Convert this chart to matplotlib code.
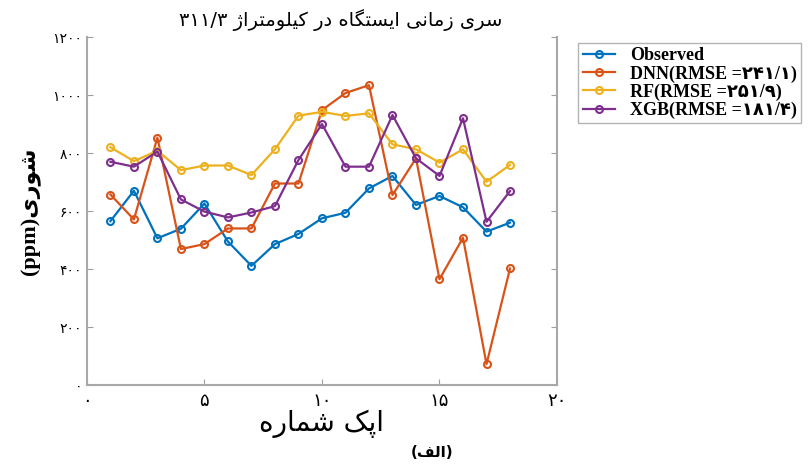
import matplotlib
matplotlib.use("Agg")
import matplotlib.pyplot as plt

# data
epochs = list(range(1, 19))
observed = [565, 670, 506, 539, 626, 495, 411, 486, 521, 575, 594, 678, 721, 621, 652, 613, 529, 560]
dnn = [657, 571, 853, 469, 486, 540, 540, 695, 695, 948, 1007, 1034, 655, 782, 365, 508, 72, 402]
rf = [820, 772, 808, 741, 757, 757, 724, 813, 929, 942, 928, 937, 830, 813, 767, 813, 701, 759]
xgb = [770, 753, 805, 640, 598, 578, 595, 617, 776, 900, 753, 753, 931, 782, 721, 920, 563, 669]

labels = ["Observed", "DNN(RMSE =۲۴۱/۱)", "RF(RMSE =۲۵۱/۹)", "XGB(RMSE =۱۸۱/۴)"]
colors = ["#0072BD", "#D95319", "#EDB120", "#7E2F8E"]
xticks = [0, 5, 10, 15, 20]
yticks = [0, 200, 400, 600, 800, 1000, 1200]

# simple Persian shaping (matplotlib has no RTL / joining support)
FORMS = {
    'ا': (0xFE8D, 0xFE8E), 'د': (0xFEA9, 0xFEAA), 'ر': (0xFEAD, 0xFEAE),
    'ز': (0xFEAF, 0xFEB0), 'ژ': (0xFB8A, 0xFB8B), 'و': (0xFEED, 0xFEEE),
    'ب': (0xFE8F, 0xFE90, 0xFE91, 0xFE92), 'پ': (0xFB56, 0xFB57, 0xFB58, 0xFB59),
    'ت': (0xFE95, 0xFE96, 0xFE97, 0xFE98), 'س': (0xFEB1, 0xFEB2, 0xFEB3, 0xFEB4),
    'ش': (0xFEB5, 0xFEB6, 0xFEB7, 0xFEB8), 'ف': (0xFED1, 0xFED2, 0xFED3, 0xFED4),
    'ک': (0xFB8E, 0xFB8F, 0xFB90, 0xFB91), 'گ': (0xFB92, 0xFB93, 0xFB94, 0xFB95),
    'ل': (0xFEDD, 0xFEDE, 0xFEDF, 0xFEE0), 'م': (0xFEE1, 0xFEE2, 0xFEE3, 0xFEE4),
    'ن': (0xFEE5, 0xFEE6, 0xFEE7, 0xFEE8), 'ه': (0xFEE9, 0xFEEA, 0xFEEB, 0xFEEC),
    'ی': (0xFBFC, 0xFBFD, 0xFBFE, 0xFBFF),
}
MIRROR = {'(': ')', ')': '('}


def rtl(s):
    out = []
    for i, ch in enumerate(s):
        f = FORMS.get(ch)
        if f is None:
            out.append(ch)
            continue
        prev = s[i - 1] if i > 0 else ''
        nxt = s[i + 1] if i + 1 < len(s) else ''
        jp = prev in FORMS and len(FORMS[prev]) == 4
        jn = len(f) == 4 and nxt in FORMS
        if jp and jn:
            c = f[3]
        elif jn:
            c = f[2]
        elif jp:
            c = f[1]
        else:
            c = f[0]
        out.append(chr(c))
    return ''.join(MIRROR.get(c, c) for c in reversed(out))


def fa(n):
    return str(n).translate(str.maketrans("0123456789", "۰۱۲۳۴۵۶۷۸۹"))


fig = plt.figure(figsize=(8.12, 4.69), dpi=100)
ax = fig.add_axes([0.107, 0.179, 0.579, 0.742])

for series, lab, col in zip([observed, dnn, rf, xgb], labels, colors):
    ax.plot(epochs, series, '-o', color=col, lw=1.6, ms=5, mfc='none', mew=1.5, label=lab)

ax.set_xlim(0, 20)
ax.set_ylim(0, 1200)
ax.set_xticks(xticks)
ax.set_xticklabels([fa(t) for t in xticks], fontsize=13, family='DejaVu Sans')
ax.set_yticks(yticks)
ax.set_yticklabels([fa(t) for t in yticks], fontsize=10, family='DejaVu Sans')
ax.tick_params(direction='in', length=4, color='#a0a0a0', right=True)
ax.tick_params(axis='x', pad=5)
for side in ['left', 'bottom', 'right']:
    ax.spines[side].set_color('#a8a8a8')
    ax.spines[side].set_linewidth(1.5)
ax.spines['top'].set_visible(False)

# word order as in the reference figure
ax.set_xlabel(rtl("اپک شماره"), fontsize=20, family='DejaVu Sans', labelpad=0)
ax.set_ylabel("(ppm)" + rtl("شوری"), fontsize=16, fontweight='bold',
              family=['Liberation Serif', 'DejaVu Sans'], labelpad=8)
fig.text(0.42, 0.958, fa("311/3") + " " + rtl("سری زمانی ایستگاه در کیلومتراژ"),
         ha='center', va='center', fontsize=14, family='DejaVu Sans')
fig.text(0.532, 0.036, rtl("(الف)"), ha='center', va='center', fontsize=11,
         fontweight='bold', family='DejaVu Sans')

leg = fig.legend(loc='upper left', bbox_to_anchor=(0.701, 0.928), frameon=True,
                 prop={'family': ['Liberation Serif', 'DejaVu Sans'], 'weight': 'bold', 'size': 13},
                 handlelength=1.8, borderpad=0.25, labelspacing=0.05, fancybox=False)
leg.get_frame().set_edgecolor('#a0a0a0')

fig.savefig("out.png", dpi=100)
